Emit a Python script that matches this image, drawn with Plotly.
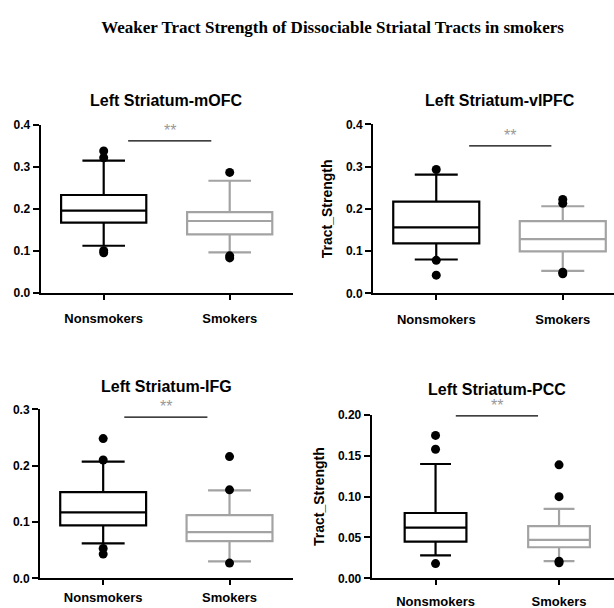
import plotly.graph_objects as go

# ---------------- data ----------------
groups = ["Nonsmokers", "Smokers"]
panel_titles = ["Left Striatum-mOFC", "Left Striatum-vlPFC", "Left Striatum-IFG", "Left Striatum-PCC"]

# box statistics per panel: [Nonsmokers, Smokers]
q1 = [[0.167, 0.139], [0.118, 0.099], [0.094, 0.066], [0.045, 0.038]]
median = [[0.196, 0.171], [0.156, 0.128], [0.117, 0.082], [0.062, 0.047]]
q3 = [[0.233, 0.192], [0.217, 0.171], [0.153, 0.112], [0.080, 0.064]]
lower_whisker = [[0.112, 0.096], [0.080, 0.053], [0.062, 0.030], [0.028, 0.021]]
upper_whisker = [[0.315, 0.267], [0.281, 0.206], [0.207, 0.156], [0.140, 0.085]]

outliers_nonsmokers = [[0.338, 0.322, 0.100, 0.095],
                       [0.293, 0.078, 0.043],
                       [0.248, 0.210, 0.053, 0.043],
                       [0.175, 0.158, 0.018]]
outliers_smokers = [[0.287, 0.088, 0.083],
                    [0.222, 0.213, 0.050, 0.046],
                    [0.216, 0.157, 0.027],
                    [0.139, 0.100, 0.021, 0.019]]

y_max = [0.4, 0.4, 0.3, 0.2]
y_dtick = [0.1, 0.1, 0.1, 0.05]
y_fmt = [".1f", ".1f", ".1f", ".2f"]
sig_y = [0.362, 0.349, 0.286, 0.199]
sig_label = ["**", "**", "**", "**"]

# ---------------- layout geometry (pixels) ----------------
W, H = 614, 608
# (x_left, x_right, y_bottom, y_top) of each plot area in pixels
areas = [(40.7, 292.7, 292.7, 125.0),
         (373.0, 614.0, 293.3, 124.3),
         (40.0, 292.7, 578.3, 409.3),
         (371.7, 614.0, 578.3, 415.0)]
x_ranges = [[-0.5, 1.5], [-0.5, 1.405], [-0.5, 1.5], [-0.517, 1.445]]
box_w = [0.676, 0.68, 0.68, 0.50]
sig_x = [[0.194, 0.854], [0.26, 0.91], [0.167, 0.825], [0.164, 0.83]]
title_pos = [(166, 100), (500, 100), (166, 386), (497, 389)]
tick_standoff = [8, 8, 1, 5]
show_ytitle = [False, True, False, True]

colors = ["black", "#a3a3a3"]
FONT = "Liberation Sans, Arial, Helvetica, sans-serif"

fig = go.Figure()
annotations = []

for p in range(4):
    xa = "x" if p == 0 else f"x{p+1}"
    ya = "y" if p == 0 else f"y{p+1}"
    for g in range(2):
        fig.add_trace(go.Box(
            x=[g], q1=[q1[p][g]], median=[median[p][g]], q3=[q3[p][g]],
            lowerfence=[lower_whisker[p][g]], upperfence=[upper_whisker[p][g]],
            width=box_w[p], whiskerwidth=0.5, fillcolor="white",
            line=dict(color=colors[g], width=2.2), boxpoints=False,
            xaxis=xa, yaxis=ya, showlegend=False, name=groups[g]))
    for g, outs in enumerate([outliers_nonsmokers[p], outliers_smokers[p]]):
        fig.add_trace(go.Scatter(
            x=[g] * len(outs), y=outs, mode="markers",
            marker=dict(color="black", size=9),
            xaxis=xa, yaxis=ya, showlegend=False, cliponaxis=False))
    # significance bar
    fig.add_trace(go.Scatter(
        x=sig_x[p], y=[sig_y[p], sig_y[p]], mode="lines",
        line=dict(color="black", width=1.2),
        xaxis=xa, yaxis=ya, showlegend=False, cliponaxis=False))
    annotations.append(dict(
        x=sum(sig_x[p]) / 2, y=sig_y[p], xref=xa, yref=ya, text=sig_label[p],
        showarrow=False, yanchor="bottom", xanchor="center",
        font=dict(family=FONT, size=16, color="#999999")))

    xl, xr, yb, yt = areas[p]
    key_x = "xaxis" if p == 0 else f"xaxis{p+1}"
    key_y = "yaxis" if p == 0 else f"yaxis{p+1}"
    fig.layout[key_x] = dict(
        domain=[xl / W, min(xr / W, 1.0)], range=x_ranges[p], anchor=ya,
        tickvals=[0, 1], ticktext=groups, showline=True, linecolor="black",
        linewidth=2, ticks="outside", ticklen=5, tickwidth=2, tickcolor="black",
        showgrid=False, zeroline=False, fixedrange=True, automargin=False,
        ticklabelstandoff=tick_standoff[p],
        tickfont=dict(family=FONT, size=13, color="black", weight="bold"))
    fig.layout[key_y] = dict(
        domain=[(H - yb) / H, (H - yt) / H], range=[0, y_max[p]], anchor=xa,
        dtick=y_dtick[p], tick0=0, tickformat=y_fmt[p], showline=True,
        linecolor="black", linewidth=2, ticks="outside", ticklen=6, tickwidth=2,
        tickcolor="black", showgrid=False, zeroline=False, fixedrange=True,
        automargin=False,
        tickfont=dict(family=FONT, size=12, color="black", weight="bold"),
        title=dict(text="Tract_Strength" if show_ytitle[p] else "", standoff=10,
                   font=dict(family=FONT, size=14, color="black", weight="bold")))
    tx, ty = title_pos[p]
    annotations.append(dict(
        x=tx / W, y=(H - ty) / H, xref="paper", yref="paper", text=panel_titles[p],
        showarrow=False, xanchor="center", yanchor="middle",
        font=dict(family=FONT, size=16, color="black", weight="bold")))

fig.update_layout(
    width=W, height=H, margin=dict(l=0, r=0, t=0, b=0, autoexpand=False),
    plot_bgcolor="white", paper_bgcolor="white",
    boxmode="overlay",
    title=dict(text="<b>Weaker Tract Strength of Dissociable Striatal Tracts in smokers</b>",
               x=332.5 / W, y=(H - 27) / H, xanchor="center", yanchor="middle",
               font=dict(family="Liberation Serif, Times New Roman, serif", size=17, color="black")),
    annotations=annotations,
)

fig.write_html("out.html", config={"displayModeBar": False},
               post_script="document.body.style.margin='0px';document.body.style.overflow='hidden';")
